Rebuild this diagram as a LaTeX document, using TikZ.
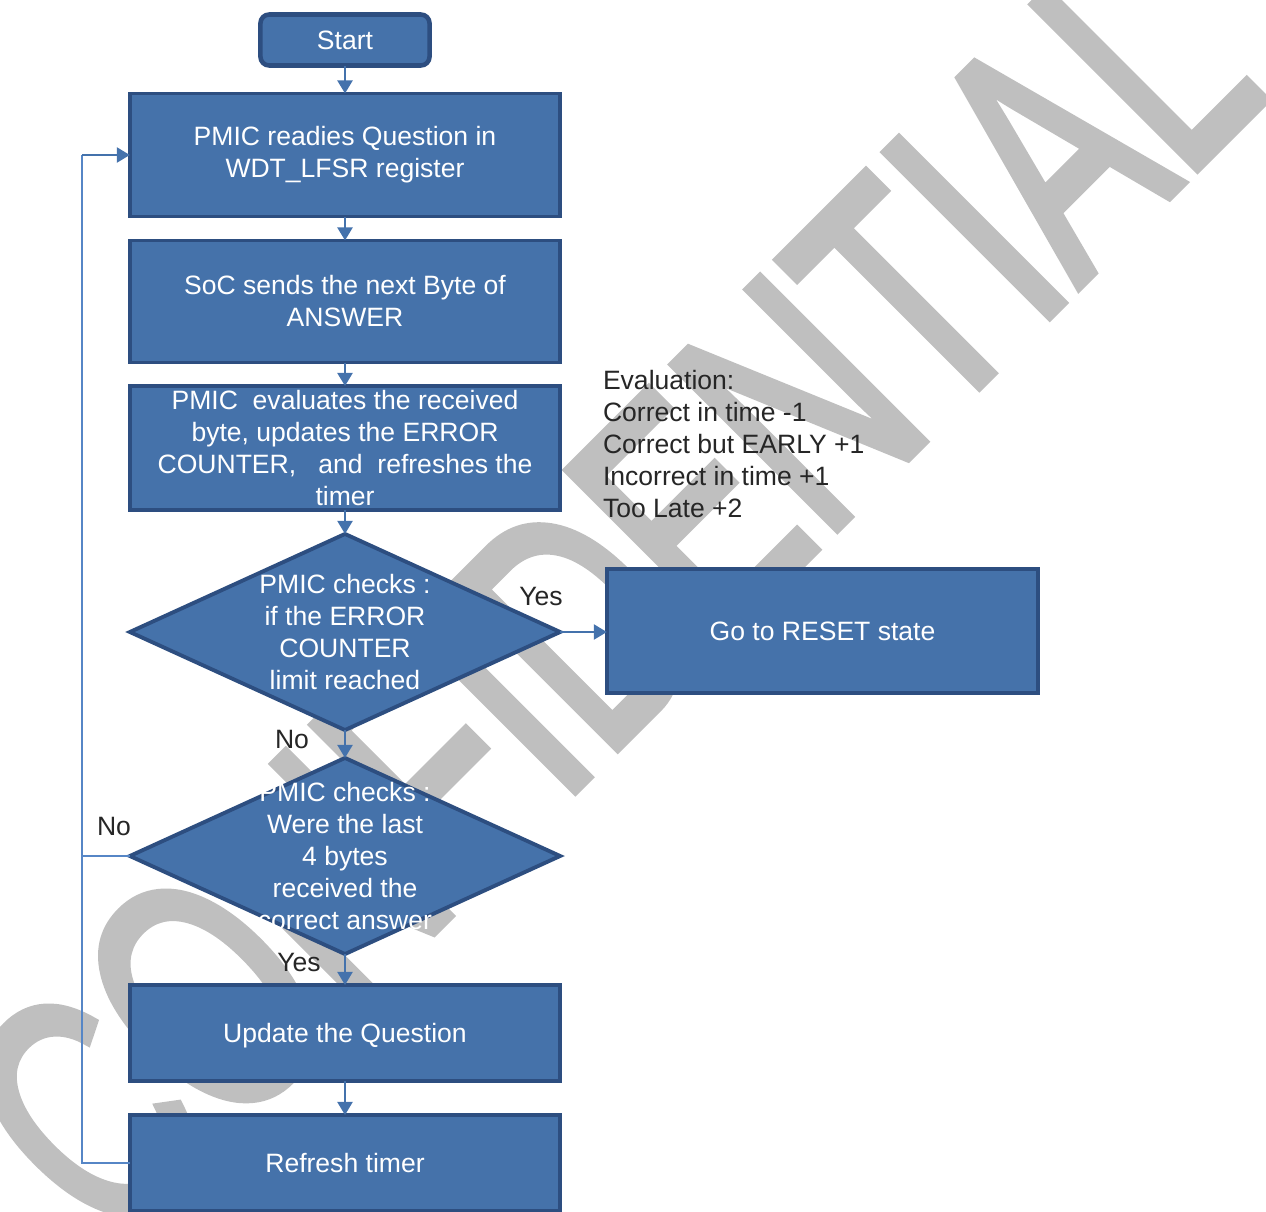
\documentclass[tikz,border=0pt]{standalone}
\usepackage{fontspec}
\setmainfont{Liberation Sans}
\newfontfamily\markfont[FakeBold=3]{Liberation Sans}
\usetikzlibrary{shapes.geometric,arrows.meta}

\definecolor{boxfill}{RGB}{69,114,170}
\definecolor{boxline}{RGB}{45,78,128}
\definecolor{linkblue}{RGB}{68,114,172}
\definecolor{loopblue}{RGB}{86,134,198}
\definecolor{wmgray}{RGB}{191,191,191}
\definecolor{labeltext}{RGB}{38,38,38}

\tikzset{
  every node/.style={inner sep=0pt, outer sep=0pt},
  txt/.style={font=\fontsize{7.55pt}{9.1pt}\selectfont, align=center},
  procbox/.style={draw=boxline, fill=boxfill, line width=1.1pt,
    minimum width=4.30cm, text=white, txt},
  oneline/.style={text height=6.83pt, text depth=1.6pt},
  startbox/.style={procbox, line width=1.3pt, rounded corners=2.5pt,
    minimum width=1.69cm, minimum height=0.51cm},
  decision/.style={diamond, draw=boxline, fill=boxfill, line width=1.1pt,
    minimum width=4.30cm, minimum height=1.96cm},
  dtext/.style={txt, text=white},
  lbl/.style={txt, text=labeltext},
  arrowtip/.style={-{Triangle[length=0.13cm, width=0.15cm]}},
  link/.style={draw=linkblue, line width=0.6pt, arrowtip},
  looplink/.style={draw=loopblue, line width=0.75pt},
}

\begin{document}
\begin{tikzpicture}[x=0.01cm, y=-0.01cm]
  \useasboundingbox (0,0) rectangle (1266,1212);
  \clip (0,0) rectangle (1266,1212);

  % watermark across the page
  \begin{scope}[shift={(111.7,1253.3)}]
    \node[cm={0.4496,0.4496,-0.6743,0.6743,(0,0)}, transform shape,
      anchor=base west, text=wmgray,
      font=\markfont\fontsize{100pt}{100pt}\selectfont] (wm) at (0,0) {CONFIDENTIAL};
  \end{scope}

  % process steps
  \node[startbox] (start) at (345,40) {Start};
  \node[procbox, minimum height=1.23cm] (ready) at (345,155)
    {PMIC readies Question in\\WDT\_LFSR register};
  \node[procbox, minimum height=1.22cm] (send) at (345,301.5)
    {SoC sends the next Byte of\\ANSWER};
  \node[procbox, minimum height=1.24cm] (eval) at (345,448)
    {PMIC\ \ evaluates the received\\byte, updates the ERROR\\COUNTER,\ \ \ and\ \ refreshes the\\timer};
  \node[decision] (limit) at (345,632) {};
  \node[dtext] (limittxt) at (limit.center)
    {PMIC checks :\\if the ERROR\\COUNTER\\limit reached};
  \node[decision] (last) at (345,856) {};
  \node[dtext] (lasttxt) at (last.center)
    {PMIC checks :\\Were the last\\4 bytes\\received the\\correct answer};
  \node[procbox, oneline, minimum height=0.96cm] (update) at (345,1033)
    {Update the Question};
  \node[procbox, oneline, minimum height=0.96cm] (refresh) at (345,1163)
    {Refresh timer};
  \node[procbox, oneline, minimum width=4.31cm, minimum height=1.24cm] (reset) at (822.5,631)
    {Go to RESET state};

  % evaluation notes
  \node[txt, align=left, anchor=west, text=labeltext] (notes) at (603,444)
    {Evaluation:\\Correct in time -1\\Correct but EARLY +1\\Incorrect in time +1\\Too Late +2};

  % flow
  \draw[link] (start) -- (ready);
  \draw[link] (ready) -- (send);
  \draw[link] (send) -- (eval);
  \draw[link] (eval) -- (limit);
  \draw[link] (limit) -- (last);
  \draw[link] (last) -- (update);
  \draw[link] (update) -- (refresh);
  \draw[link] (limit.east) -- (limit.east -| reset.west);

  % return loop on the left
  \coordinate (loopx) at (82,0);
  \draw[looplink] (refresh.west) -- (refresh.west -| loopx)
    -- (ready.west -| loopx);
  \draw[link] (ready.west -| loopx) -- (ready.west);
  \draw[looplink] (last.west) -- (last.west -| loopx);

  % branch labels
  \node[lbl] (yes1) at (541,596) {Yes};
  \node[lbl] (no1) at (292,739) {No};
  \node[lbl] (no2) at (114,826) {No};
  \node[lbl] (yes2) at (299,962) {Yes};
\end{tikzpicture}
\end{document}
